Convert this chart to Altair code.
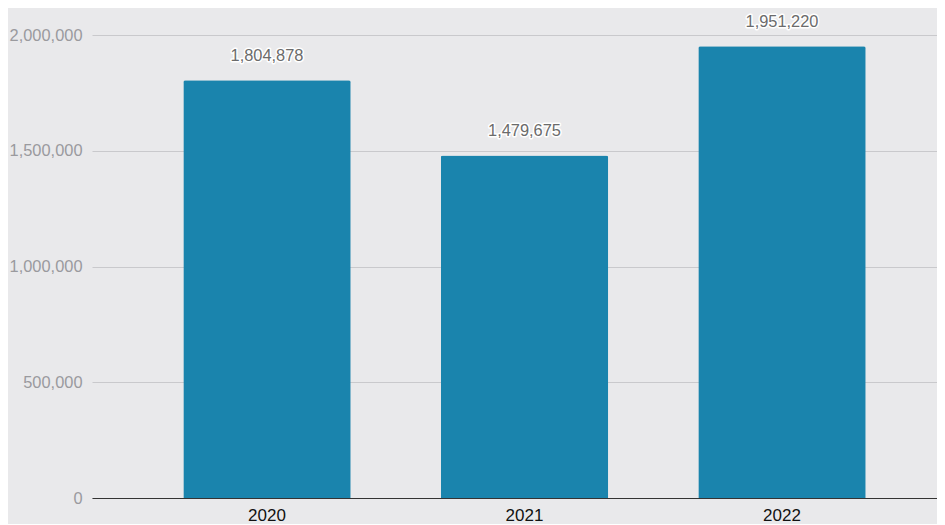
import altair as alt
import pandas as pd

years = ["2020", "2021", "2022"]
values = [1804878, 1479675, 1951220]

df = pd.DataFrame({"year": years, "value": values})

base = alt.Chart(df).encode(
    x=alt.X(
        "year:N",
        sort=years,
        scale=alt.Scale(paddingInner=0.35, paddingOuter=0.3158, align=0.5615),
        axis=alt.Axis(
            title=None,
            labelAngle=0,
            labelFontSize=17,
            labelColor="#111111",
            labelFont="Liberation Sans",
            labelPadding=9,
            ticks=False,
            domainColor="#333333",
            domainWidth=1.2,
            grid=False,
        ),
    ),
    y=alt.Y(
        "value:Q",
        scale=alt.Scale(domain=[0, 2000000], nice=False),
        axis=alt.Axis(
            title=None,
            tickCount=4,
            format=",.0f",
            labelFontSize=16.4,
            labelColor="#9a9a9e",
            labelFont="Liberation Sans",
            labelPadding=10,
            ticks=False,
            domain=False,
            gridColor="#c9c9cc",
            gridWidth=1,
        ),
    ),
)

bars = base.mark_bar(color="#1a84ad", cornerRadiusTopLeft=2, cornerRadiusTopRight=2)

halo = base.mark_text(
    dy=-19, baseline="alphabetic", fontSize=16.4, font="Liberation Sans",
    stroke="white", strokeWidth=3, fill="white", strokeJoin="round"
).encode(text=alt.Text("value:Q", format=","))

labels = base.mark_text(
    dy=-19, baseline="alphabetic", fontSize=16.4, font="Liberation Sans", color="#6b6b6b"
).encode(text=alt.Text("value:Q", format=","))

chart = (
    alt.layer(bars, halo, labels)
    .properties(
        width=845,
        height=463,
        background="#e9e9eb",
        padding={"left": 84, "top": 27, "right": 0, "bottom": 26},
        autosize=alt.AutoSizeParams(type="none"),
    )
    .configure_view(stroke=None)
)

chart.save("out.html", embed_options={"renderer": "svg", "actions": False})
